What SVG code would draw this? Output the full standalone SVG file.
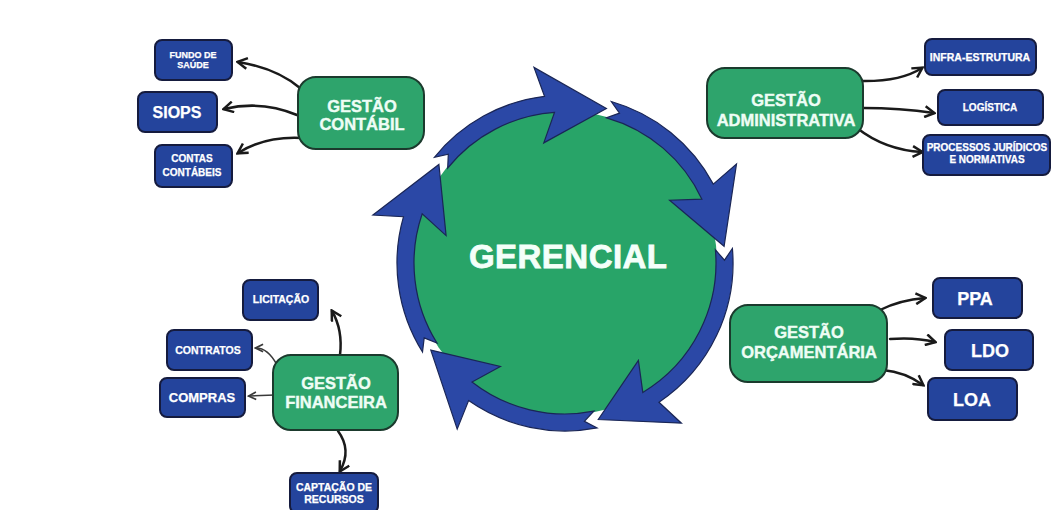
<svg xmlns="http://www.w3.org/2000/svg" width="1051" height="510" viewBox="0 0 1051 510">
<style>
.g{fill:#2ea46c;stroke:#1b3a2d;stroke-width:2}
.b{fill:#24449c;stroke:#151b3e;stroke-width:2}
.ring{fill:#2b48a6;stroke:#1a2656;stroke-width:1.2;stroke-linejoin:miter}
.gt{font-family:"Liberation Sans",Arial,sans-serif;font-weight:bold;font-size:16.5px;fill:#eefdf5;stroke:#eefdf5;stroke-width:0.4;text-anchor:middle}
.bt{font-family:"Liberation Sans",Arial,sans-serif;font-weight:bold;fill:#ffffff;stroke:#ffffff;stroke-width:0.25;text-anchor:middle}
.c{fill:none;stroke:#1a1a1a;stroke-width:2.5;stroke-linecap:round;marker-end:url(#ah)}
.ct{fill:none;stroke:#3a3a3a;stroke-width:1.5;stroke-linecap:round;marker-end:url(#ah2)}
</style>
<defs>
<marker id="ah" viewBox="0 0 12 12" refX="10" refY="6" markerWidth="13" markerHeight="13" markerUnits="userSpaceOnUse" orient="auto">
<path d="M1.5,1 L10.5,6 L1.5,11" fill="none" stroke="#1a1a1a" stroke-width="2.3" stroke-linejoin="miter"/>
</marker>
<marker id="ah2" viewBox="0 0 12 12" refX="10" refY="6" markerWidth="10" markerHeight="10" markerUnits="userSpaceOnUse" orient="auto">
<path d="M1.5,1.5 L10.5,6 L1.5,10.5" fill="none" stroke="#3a3a3a" stroke-width="2" stroke-linejoin="miter"/>
</marker>
</defs>
<rect width="1051" height="510" fill="#ffffff"/>

<g id="gerencial">
<circle cx="565" cy="263" r="152" fill="#28a468"/>
<path class="ring" d="M434.4,157.3 A168,168 0 0 1 544.5,96.3 L534.0,67.4 L606.4,108.5 L543.8,142.9 L554.5,112.4 A151,151 0 0 0 447.7,168.0 L448.3,154.2 Z"/>
<path class="ring" d="M611.3,101.5 A168,168 0 0 1 713.3,184.1 L736.5,164 L724.1,246.3 L669.6,200.2 L701.9,199.2 A151,151 0 0 0 606.6,117.8 L619.5,113.1 Z"/>
<path class="ring" d="M732.4,248.4 A168,168 0 0 1 659.0,402.3 L681.4,423.2 L598.3,419.5 L638.4,360.4 L642.8,392.4 A151,151 0 0 0 715.4,249.8 L724.5,260.2 Z"/>
<path class="ring" d="M597.1,427.9 A168,168 0 0 1 468.6,400.6 L457.2,429.1 L430.8,350.1 L500.4,366.5 L472.0,382.0 A151,151 0 0 0 593.8,411.2 L584.4,421.3 Z"/>
<path class="ring" d="M422.5,352.0 A168,168 0 0 1 403.5,216.7 L372.9,215.1 L438.9,164.5 L446.1,235.6 L422.2,213.8 A151,151 0 0 0 437.0,343.0 L424.2,337.9 Z"/>
<text x="568" y="268" font-family="'Liberation Sans',Arial,sans-serif" font-weight="bold" font-size="33" fill="#f4fff9" stroke="#f4fff9" stroke-width="0.8" text-anchor="middle" textLength="198">GERENCIAL</text>
</g>

<g id="connectors">
<path class="c" d="M300,88 Q276,68 238,62"/>
<path class="c" d="M297,115 Q262,100 224,109"/>
<path class="c" d="M302,138 Q265,136 238,153"/>
<path class="c" d="M860,81 Q900,82 922,68"/>
<path class="c" d="M863,108 Q900,108 934,113"/>
<path class="c" d="M857,128 Q885,150 922,152"/>
<path class="c" d="M340,355 Q343,330 332,311"/>
<path class="ct" d="M277,365 Q268,348 256,348"/>
<path class="ct" d="M275,395 L249,396"/>
<path class="c" d="M338,431 Q352,450 340,471"/>
<path class="c" d="M880,310 Q900,300 925,298"/>
<path class="c" d="M890,339 Q915,337 935,342"/>
<path class="c" d="M883,370 Q905,372 923,385"/>
</g>

<g id="gestao-contabil">
<rect class="g" x="298" y="77" width="126" height="72" rx="18"/>
<text class="gt" x="362" y="112">GESTÃO</text>
<text class="gt" x="362" y="130">CONTÁBIL</text>
</g>
<g id="fundo-de-saude">
<rect class="b" x="155" y="40" width="77" height="40" rx="7"/>
<text class="bt" x="193" y="58" font-size="9">FUNDO DE</text>
<text class="bt" x="193" y="68" font-size="9">SAÚDE</text>
</g>
<g id="siops">
<rect class="b" x="138" y="92" width="79" height="40" rx="7"/>
<text class="bt" x="177" y="118" font-size="16">SIOPS</text>
</g>
<g id="contas-contabeis">
<rect class="b" x="155" y="145" width="77" height="42" rx="7"/>
<text class="bt" x="192" y="162" font-size="10">CONTAS</text>
<text class="bt" x="192" y="176" font-size="10">CONTÁBEIS</text>
</g>

<g id="gestao-administrativa">
<rect class="g" x="707" y="68" width="156" height="70" rx="18"/>
<text class="gt" x="786" y="106">GESTÃO</text>
<text class="gt" x="786" y="126">ADMINISTRATIVA</text>
</g>
<g id="infra-estrutura">
<rect class="b" x="925" y="39" width="111" height="36" rx="7"/>
<text class="bt" x="980" y="61" font-size="10.5">INFRA-ESTRUTURA</text>
</g>
<g id="logistica">
<rect class="b" x="938" y="90" width="105" height="35" rx="7"/>
<text class="bt" x="990" y="111" font-size="10">LOGÍSTICA</text>
</g>
<g id="processos">
<rect class="b" x="923" y="135" width="127" height="40" rx="7"/>
<text class="bt" x="987" y="151" font-size="10">PROCESSOS JURÍDICOS</text>
<text class="bt" x="987" y="163" font-size="10">E NORMATIVAS</text>
</g>

<g id="gestao-financeira">
<rect class="g" x="273" y="355" width="125" height="75" rx="18"/>
<text class="gt" x="336" y="389">GESTÃO</text>
<text class="gt" x="336" y="408">FINANCEIRA</text>
</g>
<g id="licitacao">
<rect class="b" x="243" y="280" width="75" height="40" rx="7"/>
<text class="bt" x="281" y="303" font-size="10.5">LICITAÇÃO</text>
</g>
<g id="contratos">
<rect class="b" x="167" y="330" width="85" height="40" rx="7"/>
<text class="bt" x="208" y="354" font-size="10.5">CONTRATOS</text>
</g>
<g id="compras">
<rect class="b" x="160" y="378" width="85" height="39" rx="7"/>
<text class="bt" x="202" y="402" font-size="13">COMPRAS</text>
</g>
<g id="captacao">
<rect class="b" x="290" y="473" width="88" height="40" rx="7"/>
<text class="bt" x="334" y="491" font-size="10.5">CAPTAÇÃO DE</text>
<text class="bt" x="334" y="503" font-size="10.5">RECURSOS</text>
</g>

<g id="gestao-orcamentaria">
<rect class="g" x="730" y="305" width="157" height="77" rx="18"/>
<text class="gt" x="809" y="338">GESTÃO</text>
<text class="gt" x="809" y="358">ORÇAMENTÁRIA</text>
</g>
<g id="ppa">
<rect class="b" x="933" y="278" width="89" height="40" rx="7"/>
<text class="bt" x="975" y="305" font-size="18">PPA</text>
</g>
<g id="ldo">
<rect class="b" x="945" y="330" width="88" height="40" rx="7"/>
<text class="bt" x="990" y="357" font-size="18">LDO</text>
</g>
<g id="loa">
<rect class="b" x="928" y="378" width="89" height="42" rx="7"/>
<text class="bt" x="972" y="406" font-size="18">LOA</text>
</g>
</svg>
